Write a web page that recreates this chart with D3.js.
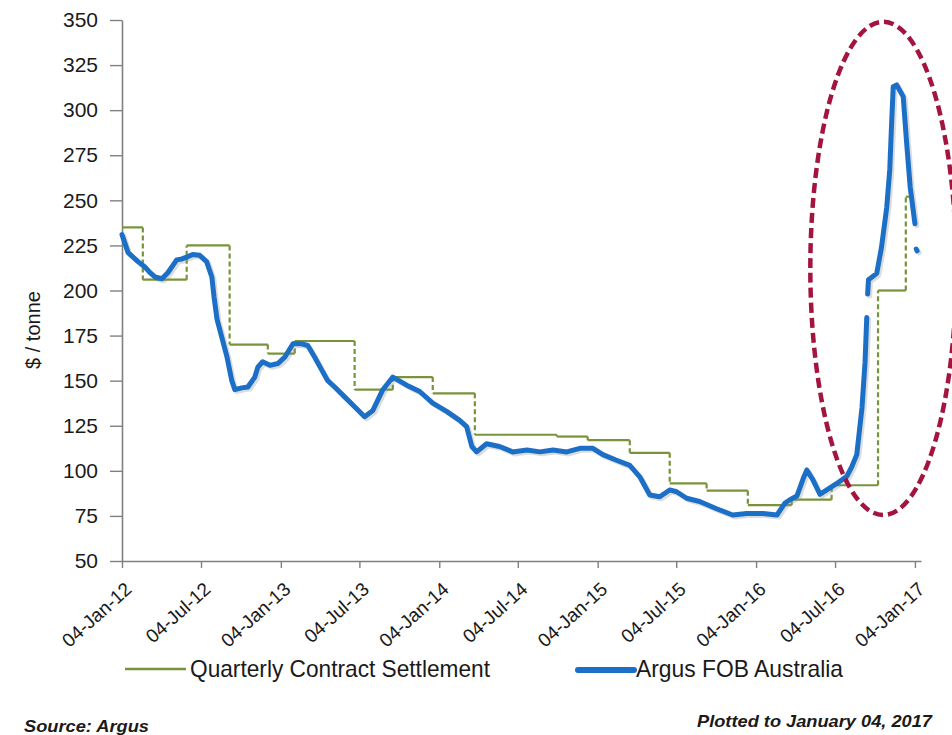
<!DOCTYPE html>
<html><head><meta charset="utf-8">
<script src="https://cdn.jsdelivr.net/npm/d3@7"></script>
<style>
body{margin:0;background:#fff;}
svg{display:block;}
text{font-family:"Liberation Sans",Arial,Helvetica,sans-serif;fill:#1a1a1a;}
</style>
</head><body>
<svg id="chart" width="952" height="735"></svg>
<script>
// ---------- data ----------
const yTickValues = [50, 75, 100, 125, 150, 175, 200, 225, 250, 275, 300, 325, 350];
const xTickDates = ["2012-01-04","2012-07-04","2013-01-04","2013-07-04","2014-01-04","2014-07-04",
                    "2015-01-04","2015-07-04","2016-01-04","2016-07-04","2017-01-04"];
const xTickLabels = ["04-Jan-12","04-Jul-12","04-Jan-13","04-Jul-13","04-Jan-14","04-Jul-14",
                     "04-Jan-15","04-Jul-15","04-Jan-16","04-Jul-16","04-Jan-17"];

const quarterStarts = ["2012-01-04","2012-02-21","2012-06-01","2012-09-08","2012-12-05","2013-02-05",
                       "2013-06-23","2013-09-19","2013-12-20","2014-03-27","2014-10-02","2014-12-12",
                       "2015-03-19","2015-06-19","2015-09-12","2015-12-16","2016-03-26","2016-06-26",
                       "2016-10-11","2016-12-14"];
const quarterValues = [235, 206, 225, 170, 165, 172, 145, 152, 143, 120, 119, 117,
                       110, 93, 89, 81, 84, 92, 200, 252];
const quarterEnd = "2016-12-21";

const argusDates = ["2012-01-04","2012-01-18","2012-02-10","2012-02-26","2012-03-08","2012-03-20",
  "2012-04-05","2012-04-19","2012-05-09","2012-05-21","2012-06-01","2012-06-15","2012-07-01",
  "2012-07-17","2012-07-29","2012-08-03","2012-08-10","2012-08-21","2012-09-02","2012-09-13",
  "2012-09-20","2012-10-06","2012-10-20","2012-11-05","2012-11-12","2012-11-23","2012-12-10",
  "2012-12-28","2013-01-13","2013-02-01","2013-02-19","2013-03-07","2013-03-23","2013-04-08",
  "2013-04-22","2013-05-08","2013-05-31","2013-06-23","2013-07-16","2013-08-04","2013-08-27",
  "2013-09-19","2013-10-21","2013-11-20","2013-12-20","2014-01-21","2014-02-20","2014-03-08",
  "2014-03-20","2014-03-31","2014-04-23","2014-05-23","2014-06-22","2014-07-25","2014-08-24",
  "2014-09-23","2014-10-25","2014-11-24","2014-12-24","2015-01-16","2015-02-15","2015-03-19",
  "2015-04-11","2015-05-04","2015-05-27","2015-06-19","2015-07-05","2015-07-28","2015-08-27",
  "2015-10-05","2015-11-11","2015-12-14","2016-01-20","2016-02-21","2016-03-10","2016-03-22",
  "2016-04-07","2016-04-22","2016-04-30","2016-05-14","2016-05-30","2016-06-15","2016-07-08",
  "2016-07-31","2016-08-11","2016-08-23","2016-09-04","2016-09-11","2016-09-15","2016-09-16",
  "2016-09-17","2016-09-19","2016-10-08","2016-10-19","2016-10-31","2016-11-07","2016-11-11",
  "2016-11-15","2016-11-23","2016-12-08","2016-12-16","2016-12-24","2017-01-04","2017-01-05",
  "2017-01-07","2017-01-09"];
const argusValues = [231, 221, 216, 213, 210, 207.5,
  206.5, 210, 217, 217.5, 218.5, 220, 219.5,
  216, 207.5, 196.5, 184, 174, 163, 150,
  145, 146, 146.5, 152, 157.5, 160.5, 158.5,
  159.5, 163, 170.5, 170.5, 169.5, 163, 156,
  150, 146.5, 141, 135.5, 130, 133.5, 145,
  152, 147.5, 144, 137.5, 133, 128, 124.5,
  113.5, 110.5, 115, 113.5, 110.5, 111.5, 110.5,
  111.5, 110.5, 112.5, 112.5, 109, 106, 103,
  96.7, 86.6, 85.6, 89.4, 88.4, 84.8, 83,
  79, 75.5, 76.4, 76.4, 75.5, 82, 84,
  86, 96, 100.5, 95, 87, 89.4, 93,
  97, 102, 109, 135, 160, 185, null,
  198, 206, 209.5, 224, 246, 267, 291,
  313, 314, 307.5, 281.5, 257.5, 237, null,
  223, 222];

const seriesNames = ["Quarterly Contract Settlement", "Argus FOB Australia"];
const yAxisTitle = "$ / tonne";
const sourceNote = "Source: Argus";
const plottedNote = "Plotted to January 04, 2017";
// highlighted region (ellipse annotation) in data terms
const highlightDates = ["2016-05-08", "2017-04-09"];
const highlightValues = [75.5, 349];

// ---------- drawing ----------
const parse = d3.timeParse("%Y-%m-%d");
const svg = d3.select("#chart");

const x = d3.scaleTime()
  .domain([parse("2012-01-04"), parse("2017-01-18")])
  .range([122, 921]);
const y = d3.scaleLinear().domain([50, 350]).range([561, 20]);

const colGreen = "#77943a", colBlue = "#1c6fc6", colRed = "#a3153f", colAxis = "#808080";
const FONT = "'Liberation Sans', Arial, sans-serif";

// Y axis
const gy = svg.append("g").attr("transform", "translate(122,0)")
  .call(d3.axisLeft(y).tickValues(yTickValues).tickSize(12).tickPadding(12).tickSizeOuter(0));
gy.select(".domain").attr("stroke", colAxis).attr("stroke-width", 1.6);
gy.selectAll(".tick line").attr("stroke", colAxis).attr("stroke-width", 1.4);
gy.selectAll(".tick text").attr("font-size", 21).attr("fill", "#1a1a1a")
  .style("font-family", FONT);

// X axis
const xTicks = xTickDates.map(parse);
const gx = svg.append("g").attr("transform", "translate(0,561)")
  .call(d3.axisBottom(x).tickValues(xTicks).tickSize(7).tickSizeOuter(0)
    .tickFormat((d, i) => xTickLabels[i]));
gx.select(".domain").attr("stroke", colAxis).attr("stroke-width", 1.6);
gx.selectAll(".tick line").attr("stroke", colAxis).attr("stroke-width", 1.4);
gx.selectAll(".tick text")
  .attr("font-size", 19).attr("fill", "#1a1a1a")
  .style("font-family", FONT)
  .attr("text-anchor", "end").attr("x", 0).attr("y", 0).attr("dy", "0.35em")
  .attr("transform", "translate(6,25) rotate(-42)");

// Y title
svg.append("text").attr("transform", "translate(40,330) rotate(-90)")
  .attr("text-anchor", "middle").attr("font-size", 20).text(yAxisTitle);

// Quarterly contract steps
const q = quarterStarts.map((d, i) => ({d0: parse(d), d1: parse(i + 1 < quarterStarts.length ? quarterStarts[i + 1] : quarterEnd), v: quarterValues[i]}));
const gq = svg.append("g");
gq.selectAll("line.h").data(q).join("line").attr("class", "h")
  .attr("x1", d => x(d.d0)).attr("x2", d => x(d.d1))
  .attr("y1", d => y(d.v)).attr("y2", d => y(d.v))
  .attr("stroke", colGreen).attr("stroke-width", 2.2);
gq.selectAll("line.v").data(q.slice(1)).join("line").attr("class", "v")
  .attr("x1", d => x(d.d0)).attr("x2", d => x(d.d0))
  .attr("y1", (d, i) => y(q[i].v)).attr("y2", d => y(d.v))
  .attr("stroke", colGreen).attr("stroke-width", 2.2).attr("stroke-dasharray", "5,3");

// Argus line
const argus = argusDates.map((d, i) => ({date: parse(d), v: argusValues[i]}));
const line = d3.line().defined(d => d.v != null).x(d => x(d.date)).y(d => y(d.v)).curve(d3.curveLinear);
svg.append("path").datum(argus).attr("d", line)
  .attr("fill", "none").attr("stroke", "#8a8a8a").attr("stroke-opacity", 0.3)
  .attr("stroke-width", 5).attr("stroke-linejoin", "round").attr("stroke-linecap", "round")
  .attr("transform", "translate(2,2)");
svg.append("path").datum(argus).attr("d", line)
  .attr("fill", "none").attr("stroke", colBlue)
  .attr("stroke-width", 5).attr("stroke-linejoin", "round").attr("stroke-linecap", "round");

// Highlight ellipse
const hx0 = x(parse(highlightDates[0])), hx1 = x(parse(highlightDates[1]));
const hy0 = y(highlightValues[0]), hy1 = y(highlightValues[1]);
svg.append("ellipse")
  .attr("cx", (hx0 + hx1) / 2).attr("cy", (hy0 + hy1) / 2)
  .attr("rx", Math.abs(hx1 - hx0) / 2).attr("ry", Math.abs(hy0 - hy1) / 2)
  .attr("fill", "none").attr("stroke", colRed).attr("stroke-width", 4.5)
  .attr("stroke-dasharray", "10,5");

// Legend
const lg = svg.append("g");
lg.append("line").attr("x1", 125).attr("x2", 186).attr("y1", 669).attr("y2", 669)
  .attr("stroke", colGreen).attr("stroke-width", 2.5);
lg.append("text").attr("x", 190).attr("y", 677).attr("font-size", 24)
  .attr("textLength", 300).attr("lengthAdjust", "spacingAndGlyphs").text(seriesNames[0]);
lg.append("line").attr("x1", 578).attr("x2", 634).attr("y1", 670).attr("y2", 670)
  .attr("stroke", colBlue).attr("stroke-width", 6).attr("stroke-linecap", "round");
lg.append("text").attr("x", 636).attr("y", 677).attr("font-size", 24)
  .attr("textLength", 207).attr("lengthAdjust", "spacingAndGlyphs").text(seriesNames[1]);

// Notes
svg.append("text").attr("x", 24).attr("y", 732).attr("font-size", 17)
  .attr("font-style", "italic").attr("font-weight", "bold")
  .attr("textLength", 125).attr("lengthAdjust", "spacingAndGlyphs").text(sourceNote);
svg.append("text").attr("x", 697).attr("y", 727).attr("font-size", 17)
  .attr("font-style", "italic").attr("font-weight", "bold")
  .attr("textLength", 235).attr("lengthAdjust", "spacingAndGlyphs").text(plottedNote);
</script>
</body></html>
